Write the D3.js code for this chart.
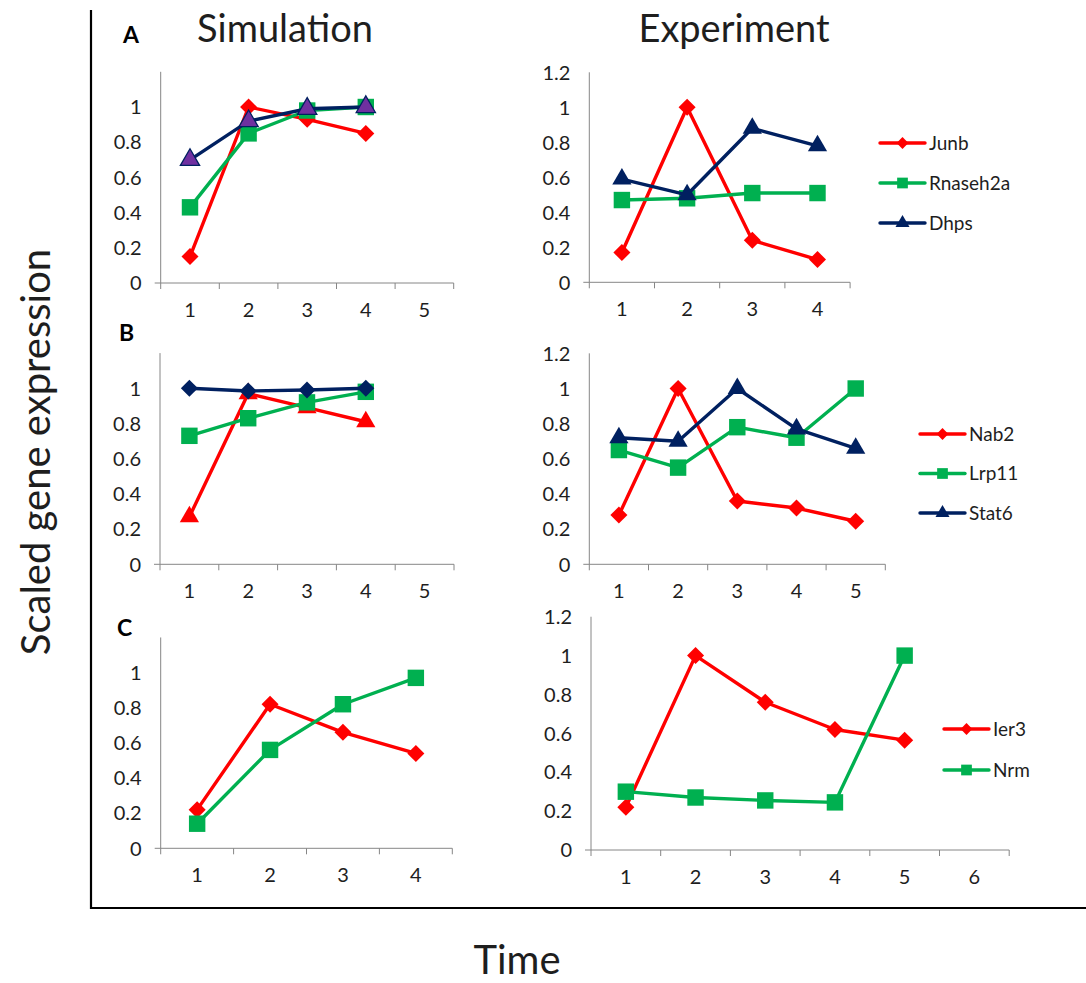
<!DOCTYPE html>
<html>
<head>
<meta charset="utf-8">
<script src="https://cdn.jsdelivr.net/npm/d3@7"></script>
<style>
  body { margin: 0; background: #fff; }
  text { font-family: Lato, "Open Sans", sans-serif; fill: #1e1e1e; }
</style>
</head>
<body>
<div id="chart"></div>
<script>
// --- data ---
var simTimes4 = ["1", "2", "3", "4"];
var simTimes5 = ["1", "2", "3", "4", "5"];
var expTimes4 = ["1", "2", "3", "4"];
var expTimes5 = ["1", "2", "3", "4", "5"];
var expTimes6 = ["1", "2", "3", "4", "5", "6"];

var yTicks = [0, 0.2, 0.4, 0.6, 0.8, 1, 1.2];

// panel A
var junbSim = [0.15, 1.0, 0.93, 0.85];
var rnaseh2aSim = [0.43, 0.85, 0.98, 1.0];
var dhpsSim = [0.70, 0.92, 0.99, 1.0];
var junbExp = [0.17, 1.0, 0.24, 0.13];
var rnaseh2aExp = [0.47, 0.48, 0.51, 0.51];
var dhpsExp = [0.59, 0.50, 0.88, 0.78];

// panel B
var nab2Sim = [0.27, 0.97, 0.89, 0.81];
var lrp11Sim = [0.73, 0.83, 0.92, 0.98];
var stat6Sim = [1.0, 0.985, 0.99, 1.0];
var nab2Exp = [0.28, 1.0, 0.36, 0.32, 0.245];
var lrp11Exp = [0.65, 0.55, 0.78, 0.72, 1.0];
var stat6Exp = [0.72, 0.70, 1.0, 0.77, 0.66];

// panel C
var ier3Sim = [0.22, 0.82, 0.66, 0.54];
var nrmSim = [0.14, 0.56, 0.82, 0.97];
var ier3Exp = [0.22, 1.0, 0.76, 0.62, 0.565];
var nrmExp = [0.30, 0.27, 0.255, 0.245, 1.0];

var RED = "#ff0000", GREEN = "#00b050", NAVY = "#002060", PURPLE = "#7030a0";

var width = 1086, height = 983;
var svg = d3.select("#chart").append("svg")
    .attr("width", width).attr("height", height);

// outer frame (left + bottom)
svg.append("path")
    .attr("d", "M91,10V908H1086")
    .attr("fill", "none").attr("stroke", "#000").attr("stroke-width", 2.2);

svg.append("text").attr("x", 285).attr("y", 42).attr("text-anchor", "middle")
    .style("font-size", "38px").text("Simulation");
svg.append("text").attr("x", 734).attr("y", 42).attr("text-anchor", "middle")
    .style("font-size", "38px").text("Experiment");
svg.append("text").attr("transform", "translate(50,452) rotate(-90)")
    .attr("text-anchor", "middle").style("font-size", "40px").text("Scaled gene expression");
svg.append("text").attr("x", 517).attr("y", 974).attr("text-anchor", "middle")
    .style("font-size", "40px").text("Time");

[["A", 123, 43], ["B", 119, 341], ["C", 117, 636]].forEach(function(l){
    svg.append("text").attr("x", l[1]).attr("y", l[2])
        .style("font-size", "23px").style("font-weight", "bold").style("fill", "#000")
        .text(l[0]);
});

function markerPath(shape, s){
    if (shape === "triangle") return d3.symbol(d3.symbolTriangle, s)();
    return d3.symbol(d3.symbolSquare, s)();
}
function markerRot(shape){ return shape === "diamond" ? " rotate(45)" : ""; }
var markerSize = { diamond: 145, square: 270, triangle: 160 };
var legendSize = { diamond: 70, square: 115, triangle: 85 };

function drawPanel(p){
    var x = d3.scaleBand().domain(p.cats).range([p.x0, p.x0 + p.catW * p.cats.length]);
    var y = d3.scaleLinear().domain([0, 1.2]).range([p.y0, p.y0 - p.unit * 1.2]);
    var g = svg.append("g");

    // axes
    g.append("line").attr("x1", p.x0).attr("x2", p.x0)
        .attr("y1", y(0)).attr("y2", y(1.2))
        .attr("stroke", "#868686").attr("stroke-width", 1);
    g.append("line").attr("x1", p.x0 - 6).attr("x2", x.range()[1])
        .attr("y1", y(0)).attr("y2", y(0))
        .attr("stroke", "#868686").attr("stroke-width", 1);
    var edges = p.cats.map(function(c){ return x(c); }).concat([x.range()[1]]);
    g.selectAll(".xt").data(edges).enter().append("line")
        .attr("x1", function(d){ return d; }).attr("x2", function(d){ return d; })
        .attr("y1", y(0)).attr("y2", y(0) + 6)
        .attr("stroke", "#868686").attr("stroke-width", 1);
    g.selectAll(".xl").data(p.cats).enter().append("text")
        .attr("x", function(d){ return x(d) + x.bandwidth() / 2; })
        .attr("y", y(0) + 34).attr("text-anchor", "middle")
        .style("font-size", "20px").text(function(d){ return d; });
    g.selectAll(".yl").data(p.showTop ? yTicks : yTicks.slice(0, 6)).enter().append("text")
        .attr("x", p.x0 - 19).attr("y", function(d){ return y(d); })
        .attr("dy", "0.36em").attr("text-anchor", "end")
        .style("font-size", "20px").text(function(d){ return d3.format("")(d); });

    var line = d3.line()
        .x(function(d, i){ return x(p.cats[i]) + x.bandwidth() / 2; })
        .y(function(d){ return y(d); });

    p.series.forEach(function(s){
        g.append("path").datum(s.values).attr("d", line)
            .attr("fill", "none").attr("stroke", s.color).attr("stroke-width", 3.4)
            .attr("stroke-linejoin", "round");
        g.selectAll(null).data(s.values).enter().append("path")
            .attr("d", markerPath(s.shape, markerSize[s.shape]))
            .attr("transform", function(d, i){
                return "translate(" + (x(p.cats[i]) + x.bandwidth() / 2) + "," + y(d) + ")" + markerRot(s.shape);
            })
            .attr("fill", s.fill || s.color)
            .attr("stroke", s.color).attr("stroke-width", s.fill ? 1.3 : 0);
    });

    if (p.legend) {
        p.legend.items.forEach(function(s, i){
            var ly = p.legend.y + i * p.legend.gap;
            var lg = svg.append("g");
            lg.append("line").attr("x1", p.legend.x).attr("x2", p.legend.x + 45)
                .attr("y1", ly).attr("y2", ly)
                .attr("stroke", s.color).attr("stroke-width", 3.4).attr("stroke-linecap", "round");
            lg.append("path").attr("d", markerPath(s.shape, legendSize[s.shape]))
                .attr("transform", "translate(" + (p.legend.x + 22.5) + "," + ly + ")" + markerRot(s.shape))
                .attr("fill", s.color);
            lg.append("text").attr("x", p.legend.x + 49).attr("y", ly).attr("dy", "0.36em")
                .style("font-size", "19px").text(s.name);
        });
    }
}

drawPanel({
    cats: simTimes5, x0: 160.7, catW: 58.6, y0: 283, unit: 176, showTop: false,
    series: [
        { values: junbSim, color: RED, shape: "diamond" },
        { values: rnaseh2aSim, color: GREEN, shape: "square" },
        { values: dhpsSim, color: NAVY, shape: "triangle", fill: PURPLE }
    ]
});
drawPanel({
    cats: expTimes4, x0: 589.3, catW: 65.2, y0: 282.3, unit: 175, showTop: true,
    series: [
        { values: junbExp, color: RED, shape: "diamond" },
        { values: rnaseh2aExp, color: GREEN, shape: "square" },
        { values: dhpsExp, color: NAVY, shape: "triangle" }
    ],
    legend: { x: 880, y: 143, gap: 40, items: [
        { name: "Junb", color: RED, shape: "diamond" },
        { name: "Rnaseh2a", color: GREEN, shape: "square" },
        { name: "Dhps", color: NAVY, shape: "triangle" }
    ]}
});
drawPanel({
    cats: simTimes5, x0: 160, catW: 58.8, y0: 564.3, unit: 176, showTop: false,
    series: [
        { values: nab2Sim, color: RED, shape: "triangle" },
        { values: lrp11Sim, color: GREEN, shape: "square" },
        { values: stat6Sim, color: NAVY, shape: "diamond" }
    ]
});
drawPanel({
    cats: expTimes5, x0: 589.3, catW: 59.2, y0: 564.3, unit: 175.8, showTop: true,
    series: [
        { values: nab2Exp, color: RED, shape: "diamond" },
        { values: lrp11Exp, color: GREEN, shape: "square" },
        { values: stat6Exp, color: NAVY, shape: "triangle" }
    ],
    legend: { x: 920, y: 434, gap: 39.5, items: [
        { name: "Nab2", color: RED, shape: "diamond" },
        { name: "Lrp11", color: GREEN, shape: "square" },
        { name: "Stat6", color: NAVY, shape: "triangle" }
    ]}
});
drawPanel({
    cats: simTimes4, x0: 160.7, catW: 72.9, y0: 848.3, unit: 175.7, showTop: false,
    series: [
        { values: ier3Sim, color: RED, shape: "diamond" },
        { values: nrmSim, color: GREEN, shape: "square" }
    ]
});
drawPanel({
    cats: expTimes6, x0: 591, catW: 69.7, y0: 850, unit: 194.4, showTop: true,
    series: [
        { values: ier3Exp, color: RED, shape: "diamond" },
        { values: nrmExp, color: GREEN, shape: "square" }
    ],
    legend: { x: 944, y: 729, gap: 41, items: [
        { name: "Ier3", color: RED, shape: "diamond" },
        { name: "Nrm", color: GREEN, shape: "square" }
    ]}
});
</script>
</body>
</html>
